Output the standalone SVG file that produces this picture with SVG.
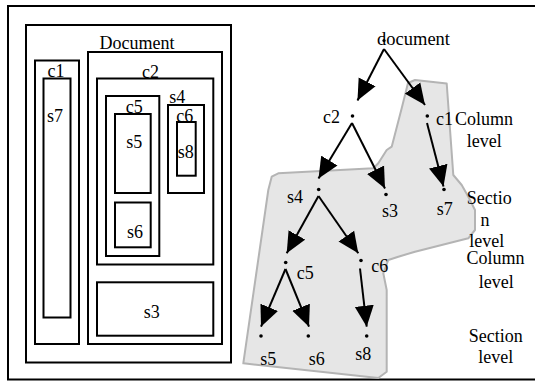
<svg xmlns="http://www.w3.org/2000/svg" width="535" height="381" viewBox="0 0 535 381">
<style>
text{font-family:"Liberation Serif","Times New Roman",serif;font-size:18px;fill:#000}
.m{text-anchor:middle}
.box{fill:none;stroke:#000;stroke-width:2}
.edge{stroke:#000;stroke-width:2;fill:none}
.dot{fill:#000}
</style>
<defs>
<marker id="ah" markerUnits="userSpaceOnUse" markerWidth="22" markerHeight="20" refX="21" refY="9.5" orient="auto" viewBox="0 0 22 19">
<path d="M0,0 L21,9.5 L0,19 z" fill="#000"/>
</marker>
</defs>
<rect x="8" y="6" width="540" height="373.5" fill="none" stroke="#000" stroke-width="2"/>
<polygon points="408,83 415,80 446.7,83.5 453.3,175 461.7,185 468.3,196.7 475,210 475,230 468.3,238.3 415,251.7 398.3,256.7 388.3,260 383.3,273.3 386.7,290 386.7,371.7 378.3,378 243.3,363.3 268.3,190 271.7,176.7 278.3,173.3 373.3,168.3 378.3,163.3 386.7,150 391.7,146.7 401.7,108.3" fill="#e6e6e6" stroke="#b4b4b4" stroke-width="2" stroke-linejoin="round"/>
<g id="layout">
<g id="box-document"><rect class="box" x="26" y="25" width="205" height="337.5"/><text class="m" x="137" y="49">Document</text></g>
<g id="box-c1"><rect class="box" x="35" y="60.5" width="44" height="283.5"/><text class="m" x="56" y="77.3">c1</text></g>
<g id="box-s7"><rect class="box" x="43.5" y="78.5" width="27" height="239"/><text class="m" x="55" y="122.3">s7</text></g>
<g id="box-c2outer"><rect class="box" x="88" y="52" width="134" height="292"/></g>
<g id="box-c2"><rect class="box" x="97" y="78.5" width="116.3" height="186"/><text class="m" x="150.5" y="77.7">c2</text></g>
<g id="box-c5"><rect class="box" x="106" y="96" width="53.3" height="160"/><text class="m" x="134.3" y="113.3">c5</text></g>
<g id="box-s5"><rect class="box" x="115" y="114" width="35.7" height="79"/><text class="m" x="134.3" y="148.3">s5</text></g>
<g id="box-s4"><rect class="box" x="168" y="105" width="36" height="88"/><text class="m" x="177.3" y="102.7">s4</text></g>
<g id="box-c6"><rect class="box" x="177" y="122" width="18.7" height="53.7"/><text class="m" x="184.7" y="121.7">c6</text></g>
<g id="box-s8"><text class="m" x="185.8" y="157.7">s8</text></g>
<g id="box-s6"><rect class="box" x="115" y="202.5" width="35.7" height="44.8"/><text class="m" x="135" y="237.7">s6</text></g>
<g id="box-s3"><rect class="box" x="97" y="282.3" width="116.3" height="53.4"/><text class="m" x="151.7" y="317.7">s3</text></g>
</g>
<g id="connectors">
<line class="edge" x1="384" y1="49" x2="357.5" y2="100.5" marker-end="url(#ah)"/>
<line class="edge" x1="384" y1="49" x2="425" y2="105" marker-end="url(#ah)"/>
<line class="edge" x1="352" y1="123" x2="318.5" y2="178.5" marker-end="url(#ah)"/>
<line class="edge" x1="352" y1="123" x2="385" y2="188.5" marker-end="url(#ah)"/>
<line class="edge" x1="427" y1="123" x2="443.5" y2="186.5" marker-end="url(#ah)"/>
<line class="edge" x1="318.5" y1="196" x2="286.7" y2="253.3" marker-end="url(#ah)"/>
<line class="edge" x1="318.5" y1="196" x2="358.3" y2="253.3" marker-end="url(#ah)"/>
<line class="edge" x1="285.5" y1="269" x2="261" y2="326.7" marker-end="url(#ah)"/>
<line class="edge" x1="285.5" y1="269" x2="309" y2="326.7" marker-end="url(#ah)"/>
<line class="edge" x1="360" y1="268.5" x2="366.7" y2="326.7" marker-end="url(#ah)"/>
</g>
<g id="node-document"><text x="377" y="44.5" textLength="73" lengthAdjust="spacingAndGlyphs">document</text><circle class="dot" cx="384" cy="40.5" r="1.6"/></g>
<g id="node-c2"><circle class="dot" cx="352.5" cy="116" r="1.8"/><text class="m" x="331.5" y="122.5">c2</text></g>
<g id="node-c1"><circle class="dot" cx="427.3" cy="116" r="1.8"/><text x="436" y="124.5">c1</text></g>
<g id="node-s4"><circle class="dot" cx="318.7" cy="189.5" r="1.8"/><text class="m" x="295" y="203.3">s4</text></g>
<g id="node-s3"><circle class="dot" cx="386" cy="194.5" r="1.8"/><text class="m" x="390" y="216.7">s3</text></g>
<g id="node-s7"><circle class="dot" cx="444" cy="189.5" r="1.8"/><text class="m" x="444.7" y="215">s7</text></g>
<g id="node-c5"><circle class="dot" cx="285.7" cy="262.5" r="1.8"/><text class="m" x="305.3" y="279.3">c5</text></g>
<g id="node-c6"><circle class="dot" cx="361" cy="260.5" r="1.8"/><text class="m" x="379.7" y="271.7">c6</text></g>
<g id="node-s5"><circle class="dot" cx="261" cy="336" r="1.8"/><text class="m" x="268.3" y="365">s5</text></g>
<g id="node-s6"><circle class="dot" cx="308.3" cy="336" r="1.8"/><text class="m" x="316.7" y="365">s6</text></g>
<g id="node-s8"><circle class="dot" cx="366.7" cy="336" r="1.8"/><text class="m" x="363.3" y="360">s8</text></g>
<g id="levels">
<text x="455" y="124.5">Column</text>
<text class="m" x="484.2" y="146.7">level</text>
<text class="m" x="489.3" y="203.5">Sectio</text>
<text class="m" x="485" y="226">n</text>
<text class="m" x="486.7" y="247.3">level</text>
<text class="m" x="495.5" y="264">Column</text>
<text class="m" x="496.3" y="288.3">level</text>
<text class="m" x="495.8" y="341.7">Section</text>
<text class="m" x="495.8" y="363.3">level</text>
</g>
</svg>
